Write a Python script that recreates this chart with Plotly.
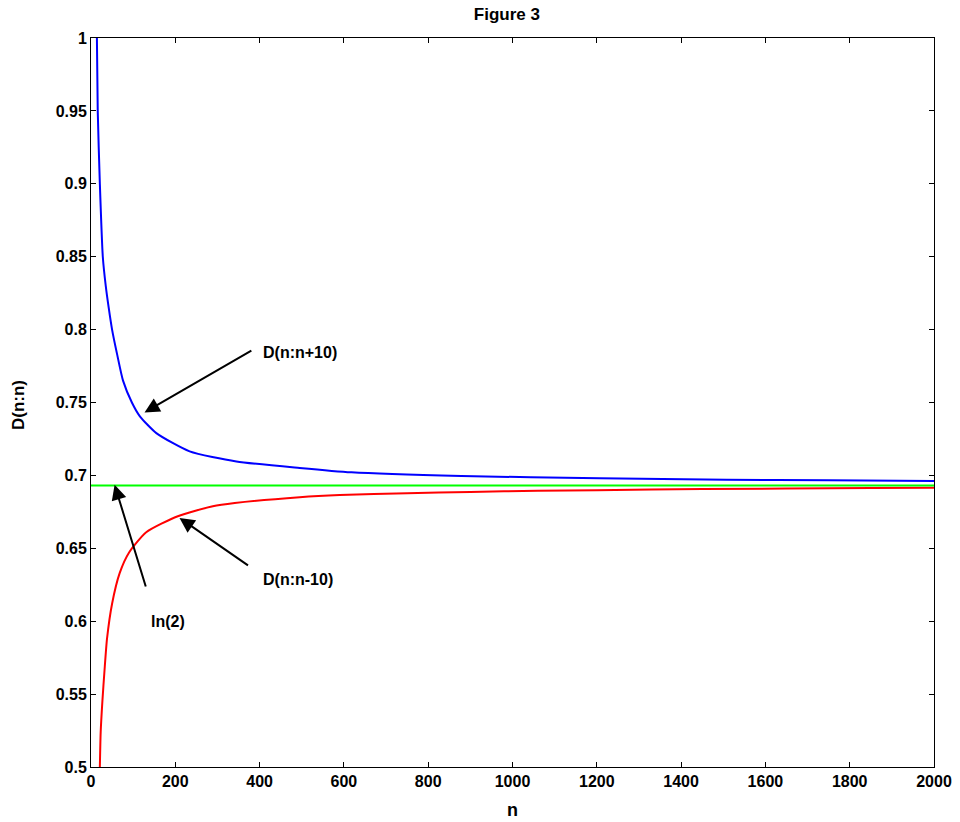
import plotly.graph_objects as go

# ---- data ----
n_plus = [14, 16, 21, 28, 35, 42, 50, 62, 76, 97, 116, 155, 234, 345, 495, 618, 879, 1207, 1508, 1750, 2000]
d_plus = [1.0, 0.95, 0.90, 0.85, 0.83, 0.815, 0.80, 0.783, 0.765, 0.75, 0.7405, 0.729, 0.7165,
          0.7096, 0.7051, 0.7021, 0.6996, 0.698, 0.6971, 0.6966, 0.6962]

n_minus = [21, 23, 27, 32, 38, 50, 68, 90, 131, 206, 289, 341, 495, 590, 750, 900, 1060, 1200, 1450, 1850, 2000]
d_minus = [0.50, 0.524, 0.545, 0.566, 0.588, 0.612, 0.633, 0.647, 0.661, 0.672, 0.6788, 0.681, 0.685, 0.6865,
           0.6878, 0.6887, 0.6894, 0.6899, 0.6906, 0.6914, 0.6916]

n_ln2 = [0, 2000]
d_ln2 = [0.6931, 0.6931]

x_ticks = [0, 200, 400, 600, 800, 1000, 1200, 1400, 1600, 1800, 2000]
y_ticks = [0.5, 0.55, 0.6, 0.65, 0.7, 0.75, 0.8, 0.85, 0.9, 0.95, 1.0]
y_tick_text = ["0.5", "0.55", "0.6", "0.65", "0.7", "0.75", "0.8", "0.85", "0.9", "0.95", "1"]

FONT = "Liberation Sans, Arial, sans-serif"
W, H = 960, 822
ML, MR, MT, MB = 91, 26, 38, 55

fig = go.Figure()
fig.add_trace(go.Scatter(x=n_plus, y=d_plus, mode="lines",
                         line=dict(color="#0000FF", width=2, shape="spline", smoothing=0.6),
                         showlegend=False))
fig.add_trace(go.Scatter(x=n_minus, y=d_minus, mode="lines",
                         line=dict(color="#FF0000", width=2, shape="spline", smoothing=0.6),
                         showlegend=False))
fig.add_trace(go.Scatter(x=n_ln2, y=d_ln2, mode="lines", line=dict(color="#00FF00", width=2),
                         showlegend=False))

arrows = [
    # (tip_x, tip_y, tail_x, tail_y)
    (127, 0.7432, 384, 0.7862),
    (210, 0.6708, 376, 0.6376),
    (56, 0.6936, 131, 0.6228),
]
for tx, ty, axx, ayy in arrows:
    fig.add_annotation(x=tx, y=ty, ax=axx, ay=ayy, xref="x", yref="y", axref="x", ayref="y",
                       text="", showarrow=True, arrowhead=2, arrowsize=1.5, arrowwidth=2,
                       arrowcolor="black")

labels = [
    ("D(n:n+10)", 404, 0.784, "left"),
    ("D(n:n-10)", 404, 0.6285, "left"),
    ("ln(2)", 182, 0.600, "center"),
]
for txt, lx, ly, anc in labels:
    fig.add_annotation(x=lx, y=ly, xref="x", yref="y", text="<b>%s</b>" % txt, showarrow=False,
                       xanchor=anc, yanchor="middle", font=dict(family=FONT, size=16, color="black"))

# axis titles placed in pixel-equivalent paper coordinates
pw, ph = W - ML - MR, H - MT - MB
fig.add_annotation(x=0.5, y=-(810 - (H - MB)) / ph, xref="paper", yref="paper", text="<b>n</b>",
                   showarrow=False, xanchor="center", yanchor="middle",
                   font=dict(family=FONT, size=18, color="black"))
fig.add_annotation(x=-(ML - 18) / pw, y=1 - (405 - MT) / ph, xref="paper", yref="paper",
                   text="<b>D(n:n)</b>", textangle=-90, showarrow=False, xanchor="center",
                   yanchor="middle", font=dict(family=FONT, size=17, color="black"))

axis_common = dict(showline=True, linecolor="black", linewidth=1, mirror="ticks", ticks="inside",
                   ticklen=5, tickcolor="black", showgrid=False, zeroline=False, automargin=False,
                   tickfont=dict(family=FONT, size=16, color="black"))

fig.update_layout(
    width=W, height=H,
    margin=dict(l=ML, r=MR, t=MT, b=MB),
    paper_bgcolor="white", plot_bgcolor="white",
    title=dict(text="<b>Figure 3</b>", x=0.528, xanchor="center", y=0.983, yanchor="middle",
               font=dict(family=FONT, size=17, color="black")),
    xaxis=dict(range=[0, 2000], tickvals=x_ticks, ticktext=["<b>%d</b>" % v for v in x_ticks],
               **axis_common),
    yaxis=dict(range=[0.5, 1.0], tickvals=y_ticks, ticktext=["<b>%s</b>" % t for t in y_tick_text],
               **axis_common),
)

fig.write_html("out.html", config={"displayModeBar": False},
               post_script="document.body.style.margin='0px';")
